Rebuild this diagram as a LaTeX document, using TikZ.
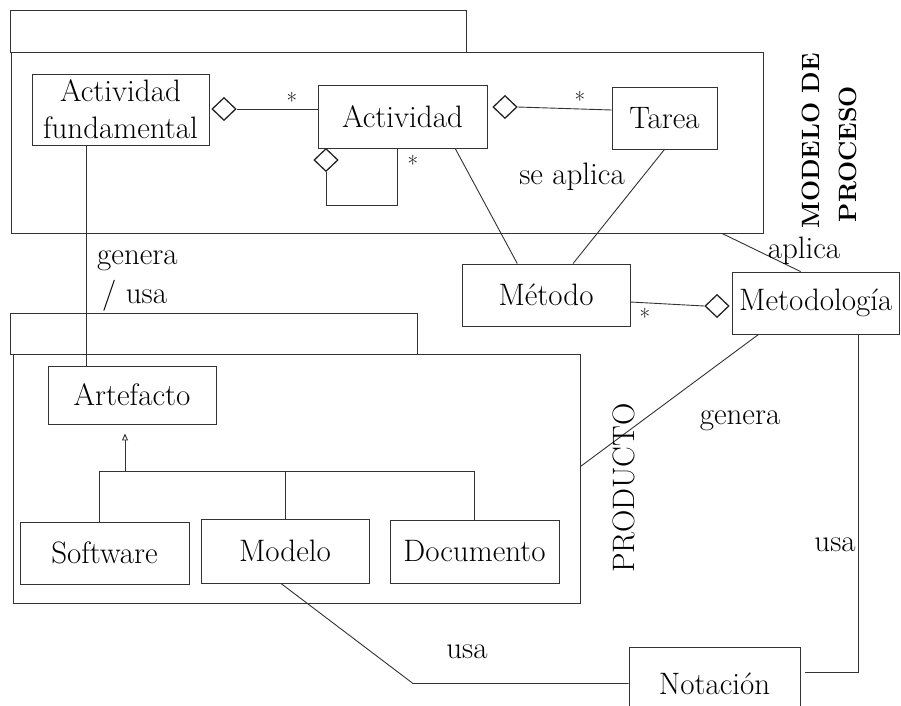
\documentclass[tikz,border=0pt]{standalone}
\usepackage{fontspec}
\usetikzlibrary{shapes.geometric,arrows.meta,calc}
\begin{document}
\begin{tikzpicture}[x=1pt,y=-1pt,
  line/.style={draw=black!80, line width=0.9pt},
  frame/.style={line, rectangle, inner sep=0pt},
  cls/.style={line, rectangle, inner sep=0pt, align=center,
    font=\fontsize{31}{37}\selectfont},
  agg/.style={draw=black!85, line width=1.3pt, diamond, inner sep=0pt,
    minimum width=24pt, minimum height=23pt},
  lbl/.style={font=\fontsize{31}{37}\selectfont, inner sep=0pt},
  mult/.style={font=\fontsize{23}{23}\selectfont, inner sep=0pt},
  pkgname/.style={font=\fontsize{25}{25}\selectfont\bfseries, rotate=90, inner sep=0pt}]

\useasboundingbox (0,0) rectangle (901,705);
\fill[white] (0,0) rectangle (901,705);

% package frames (tab + body)
\node[frame, minimum width=456pt, minimum height=42pt]  (mptab) at (238,31) {};
\node[frame, minimum width=752pt, minimum height=181pt] (mp)    at (387,142.5) {};
\node[frame, minimum width=407pt, minimum height=41pt]  (prtab) at (213.5,333.5) {};
\node[frame, minimum width=567pt, minimum height=249pt] (pr)    at (296.5,478.5) {};

% classes
\node[cls, minimum width=177pt, minimum height=71pt] (af)   at (120.5,109.5) {Actividad\\fundamental};
\node[cls, minimum width=169pt, minimum height=63pt] (act)  at (402.5,116.5) {Actividad};
\node[cls, minimum width=105pt, minimum height=62pt] (tar)  at (664.5,118)   {Tarea};
\node[cls, minimum width=168pt, minimum height=62pt] (met)  at (546,295)     {Método};
\node[cls, minimum width=167.5pt, minimum height=62pt] (mgy) at (815.75,303) {Metodología};
\node[cls, minimum width=168pt, minimum height=58pt] (art)  at (132,395)     {Artefacto};
\node[cls, minimum width=169pt, minimum height=62pt] (sw)   at (104.5,553)   {Software};
\node[cls, minimum width=168pt, minimum height=64pt] (mod)  at (285,551)     {Modelo};
\node[cls, minimum width=169pt, minimum height=63pt] (doc)  at (474.5,551.5) {Documento};
\node[cls, minimum width=171pt, minimum height=73pt] (nota) at (714.5,683.5) {Notación};

% aggregation diamonds
\node[agg] (d1) at (224,109) {};
\node[agg] (d2) at (326,160) {};
\node[agg] (d3) at (505,107) {};
\node[agg] (d4) at (717,306) {};

% aggregations
\draw[line] (d1.east) -- (d1.east -| act.west);
\coordinate (loop) at (397,205);
\draw[line] (d2.south) |- (loop) -- (loop |- act.south);
\draw[line] (d3.east) -- ([yshift=8pt]tar.west);
\draw[line] ([yshift=-7pt]met.east) -- (d4.west);

% associations
\draw[line] ($(act.south west)!0.81!(act.south east)$) -- ($(met.north west)!0.33!(met.north east)$);
\draw[line] (tar.south) -- ($(met.north west)!0.66!(met.north east)$);
\draw[line] ($(mp.south west)!0.945!(mp.south east)$) -- ($(mgy.north west)!0.41!(mgy.north east)$);
\draw[line] ($(mgy.south west)!0.16!(mgy.south east)$) -- ([yshift=12pt]pr.east);
\draw[line] ($(mgy.south west)!0.755!(mgy.south east)$) |- ([xshift=5pt,yshift=11.5pt]nota.east);
\coordinate (bend) at (413,683.5);
\draw[line] ($(mod.south west)!0.476!(mod.south east)$) -- (bend) -- (nota.west);
\coordinate (fx) at ($(af.south west)!0.31!(af.south east)$);
\draw[line] (fx) -- (fx |- art.north);

% generalisation
\coordinate (hub) at (125,471);
\coordinate (swt) at ($(sw.north west)!0.47!(sw.north east)$);
\draw[line] (swt) |- (hub -| doc.north) -- (doc.north);
\draw[line] (mod.north) -- (mod.north |- hub);
\draw[line, -{Triangle[open, length=7pt, width=6pt]}, shorten >=9pt] (hub) -- (hub |- art.south);

% multiplicities
\node[mult] (m1) at (292,101) {*};
\node[mult] (m2) at (413,164) {*};
\node[mult] (m3) at (580,100) {*};
\node[mult] (m4) at (645,317) {*};

% association labels
\node[lbl, anchor=base] (sap) at (572,184) {se aplica};
\node[lbl, anchor=base] (apl) at (804,258) {aplica};
\node[lbl, anchor=base west] (g1) at (97,264) {genera};
\node[lbl, anchor=base west] (g2) at (102,303) {/ usa};
\node[lbl, anchor=base] (g3) at (740,424) {genera};
\node[lbl, anchor=base] (u1) at (835,551) {usa};
\node[lbl, anchor=base] (u2) at (467,658) {usa};

% package names
\node[pkgname] (mdl) at (811,141) {MODELO DE};
\node[pkgname] (prc) at (848,154) {PROCESO};
\node[lbl, rotate=90] (prod) at (624,488) {PRODUCTO};
\end{tikzpicture}
\end{document}
